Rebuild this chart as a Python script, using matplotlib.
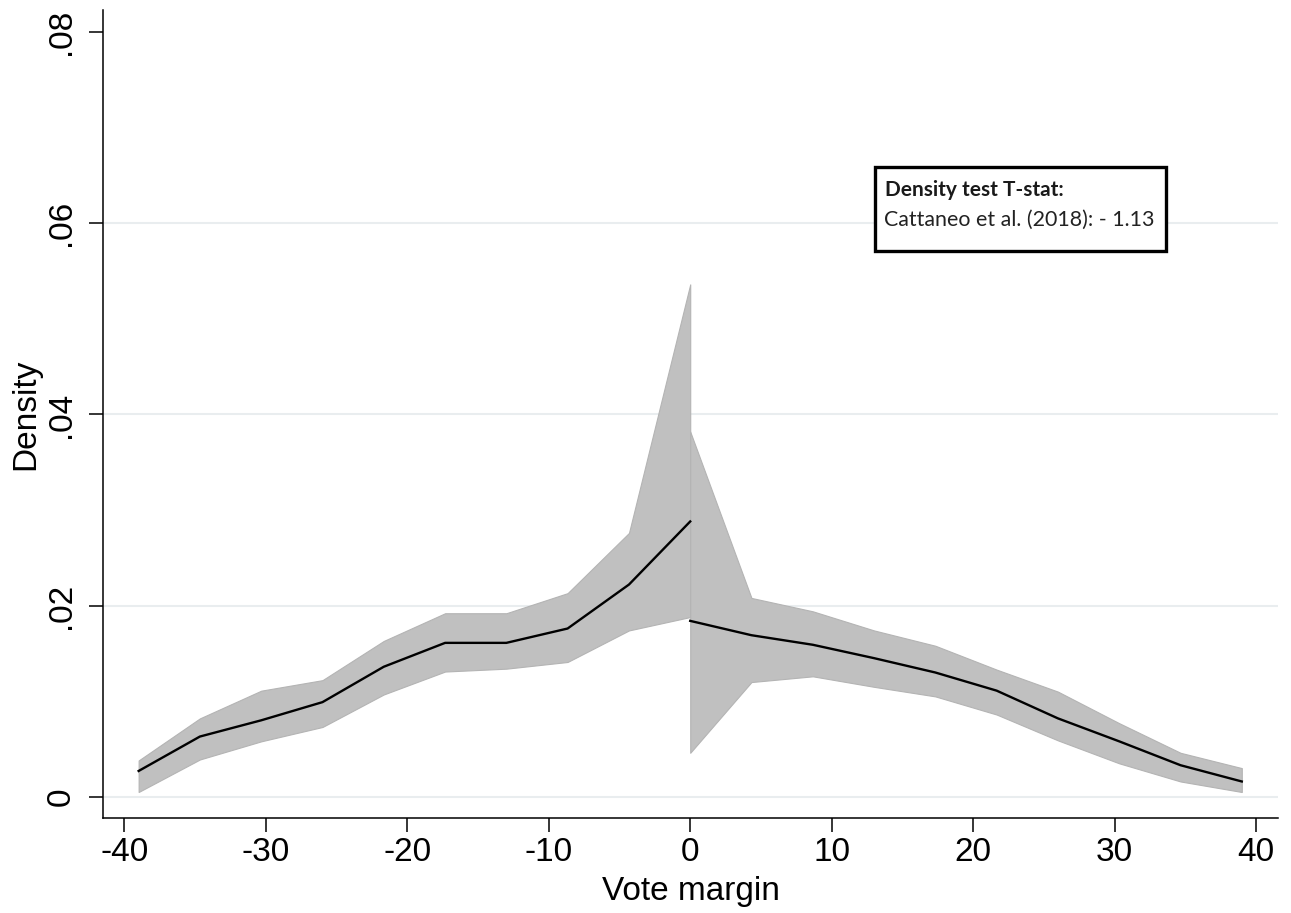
import matplotlib
matplotlib.use("Agg")
import matplotlib.pyplot as plt
from matplotlib.patches import Rectangle

# Density estimates on each side of the cutoff, with confidence bands
x_left = [-39, -34.67, -30.33, -26, -21.67, -17.33, -13, -8.67, -4.33, 0]
left_fit = [0.0027, 0.0063, 0.0080, 0.0099, 0.0136, 0.0161, 0.0161, 0.0176, 0.0222, 0.0288]
left_hi = [0.0038, 0.0082, 0.0111, 0.0122, 0.0163, 0.0192, 0.0192, 0.0213, 0.0276, 0.0536]
left_lo = [0.0005, 0.0039, 0.0058, 0.0073, 0.0107, 0.0131, 0.0134, 0.0141, 0.0174, 0.0188]

x_right = [0, 4.33, 8.67, 13, 17.33, 21.67, 26, 30.33, 34.67, 39]
right_fit = [0.0184, 0.0169, 0.0159, 0.0145, 0.0130, 0.0111, 0.0082, 0.0058, 0.0033, 0.0016]
right_hi = [0.0382, 0.0208, 0.0194, 0.0174, 0.0158, 0.0133, 0.0110, 0.0077, 0.0046, 0.0030]
right_lo = [0.0046, 0.0120, 0.0126, 0.0115, 0.0105, 0.0086, 0.0059, 0.0035, 0.0016, 0.0005]

x_ticks = [-40, -30, -20, -10, 0, 10, 20, 30, 40]
y_ticks = [0, 0.02, 0.04, 0.06, 0.08]
y_ticklabels = ["0", ".02", ".04", ".06", ".08"]

plt.rcParams["font.family"] = ["Liberation Sans", "DejaVu Sans"]

fig = plt.figure(figsize=(12.91, 9.13), dpi=100)
ax = fig.add_axes([103 / 1291, 95 / 913, 1175 / 1291, 808 / 913])

# light horizontal grid
for yv in y_ticks[:-1]:
    ax.axhline(yv, color="#e9edef", lw=1.5, zorder=0)

band = dict(facecolor="#c0c0c0", edgecolor="#b4b4b4", lw=0.8, zorder=1)
ax.fill_between(x_left, left_lo, left_hi, **band)
ax.fill_between(x_right, right_lo, right_hi, **band)
ax.plot(x_left, left_fit, color="black", lw=1.7, zorder=2)
ax.plot(x_right, right_fit, color="black", lw=1.7, zorder=2)

ax.set_xlim(-41.52, 41.56)
ax.set_ylim(-0.00222, 0.0823)

ax.set_xticks(x_ticks)
ax.set_xticklabels([str(v) for v in x_ticks])
ax.set_yticks(y_ticks)
ax.set_yticklabels(y_ticklabels, rotation=90, va="center")

for side in ["top", "right"]:
    ax.spines[side].set_visible(False)
for side in ["left", "bottom"]:
    ax.spines[side].set_linewidth(1.1)
ax.tick_params(axis="both", direction="out", length=10, width=1.1,
               labelsize=24, colors="black")
ax.tick_params(axis="x", pad=4)
ax.tick_params(axis="y", pad=9)

ax.set_xlabel("Vote margin", fontsize=24)
ax.xaxis.set_label_coords(0.5, -0.072)
ax.set_ylabel("Density", fontsize=24, va="center")
ax.yaxis.set_label_coords(-0.066, 0.5)

# test statistic box
ax.add_patch(Rectangle((0.657, 0.7017), 0.2477, 0.104, transform=ax.transAxes,
                       facecolor="white", edgecolor="black", lw=2.4, zorder=5))
ax.text(0.6655, 0.7698, "Density test T-stat:", transform=ax.transAxes,
        fontsize=15, fontweight="bold", family="Lato", color="#1a1a1a",
        va="baseline", zorder=6)
ax.text(0.6647, 0.7327, "Cattaneo et al. (2018): - 1.13", transform=ax.transAxes,
        fontsize=15.4, family="Lato", color="#222222", va="baseline", zorder=6)

fig.savefig("out.png", dpi=100, facecolor="white")
